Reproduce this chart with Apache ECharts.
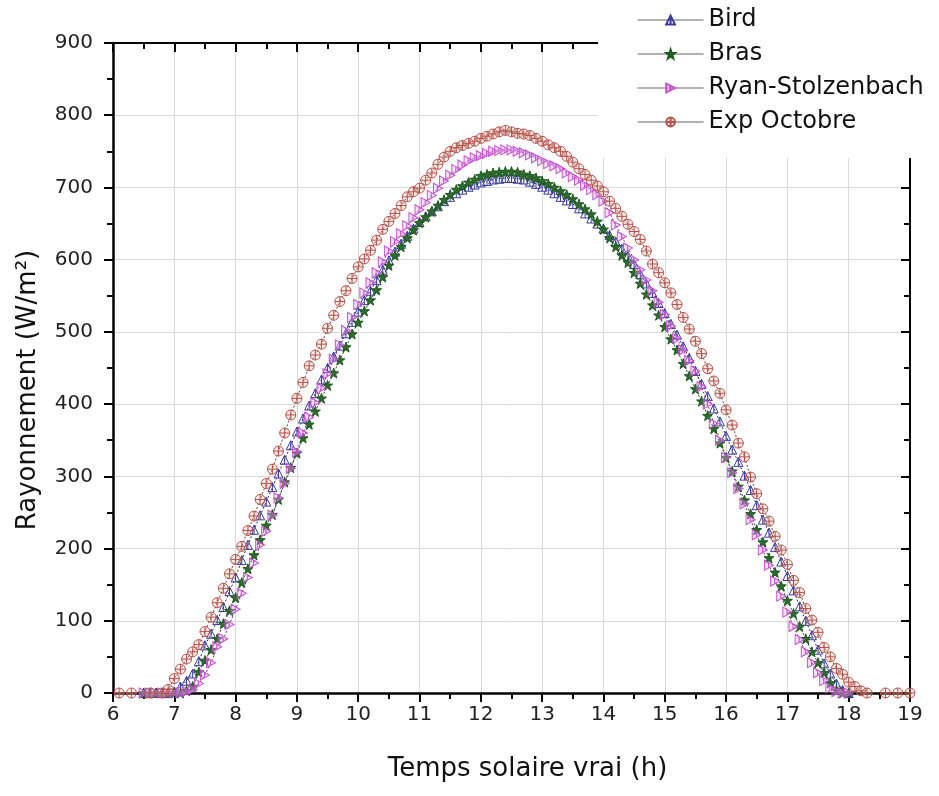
<!DOCTYPE html>
<html><head><meta charset="utf-8">
<script src="https://cdn.jsdelivr.net/npm/echarts@6/dist/echarts.min.js"></script>
<style>html,body{margin:0;padding:0;background:#fff}#c{width:939px;height:796px}</style>
</head><body><div id="c"></div>
<script>
// x grid (hours), 0.1 h steps
var hours = [6.0,6.1,6.2,6.3,6.4,6.5,6.6,6.7,6.8,6.9,
7.0,7.1,7.2,7.3,7.4,7.5,7.6,7.7,7.8,7.9,
8.0,8.1,8.2,8.3,8.4,8.5,8.6,8.7,8.8,8.9,
9.0,9.1,9.2,9.3,9.4,9.5,9.6,9.7,9.8,9.9,
10.0,10.1,10.2,10.3,10.4,10.5,10.6,10.7,10.8,10.9,
11.0,11.1,11.2,11.3,11.4,11.5,11.6,11.7,11.8,11.9,
12.0,12.1,12.2,12.3,12.4,12.5,12.6,12.7,12.8,12.9,
13.0,13.1,13.2,13.3,13.4,13.5,13.6,13.7,13.8,13.9,
14.0,14.1,14.2,14.3,14.4,14.5,14.6,14.7,14.8,14.9,
15.0,15.1,15.2,15.3,15.4,15.5,15.6,15.7,15.8,15.9,
16.0,16.1,16.2,16.3,16.4,16.5,16.6,16.7,16.8,16.9,
17.0,17.1,17.2,17.3,17.4,17.5,17.6,17.7,17.8,17.9,
18.0,18.1,18.2,18.3,18.4,18.5,18.6,18.7,18.8,18.9,
19.0];

var bird = [null,null,null,null,null,0,0,0,0,0,
2,9,17,27,44,66,82,101,119,141,
160,184,205,226,246,265,285,304,323,343,
362,380,398,415,434,450,466,481,498,514,
528,544,557,572,586,599,611,622,633,643,
652,660,667,674,681,687,692,697,701,704,
707,709,711,712,713,713,712,711,708,705,
701,697,692,687,682,677,671,664,657,650,
643,634,625,615,605,594,580,567,554,540,
526,511,496,480,464,446,428,411,394,376,
356,337,320,301,281,260,240,222,202,182,
162,142,120,100,80,60,41,27,13,4,
0,null,null,null,null,null,null,null,null,null,
null];

var bras = [null,null,null,null,null,0,0,0,0,0,
0,0,3,9,29,45,60,75,96,114,
132,153,172,191,212,232,247,268,292,312,
332,353,372,390,408,426,443,461,479,497,
513,529,544,558,576,592,606,618,630,641,
651,659,667,675,683,690,697,702,707,711,
716,718,720,721,722,722,721,718,716,713,
709,705,700,695,690,684,677,670,663,653,
642,630,618,606,596,582,567,552,537,523,
507,490,475,456,439,421,404,384,366,346,
326,307,286,267,248,226,209,187,167,148,
128,110,92,75,57,42,28,14,4,0,
0,null,null,null,null,null,null,null,null,null,
null];

var ryan = [null,null,null,null,null,0,0,0,0,0,
0,0,2,5,13,25,42,64,75,95,
116,138,160,180,205,224,246,270,290,311,
334,360,382,402,422,442,462,482,502,520,
538,554,568,582,597,612,625,636,647,658,
669,679,689,699,709,717,725,731,737,741,
744,747,750,751,752,752,750,748,745,741,
737,733,730,726,720,715,710,703,697,690,
681,665,648,632,616,600,586,572,557,541,
524,508,491,475,460,446,424,400,373,350,
326,305,283,262,240,219,198,177,155,134,
112,92,74,57,42,28,17,7,2,0,
0,null,null,null,null,null,null,null,null,null,
null];

var expOct = [null,0,null,0,null,null,0,null,0,5,
20,33,47,57,67,85,105,125,145,165,
185,203,225,245,268,290,310,335,360,385,
408,430,453,468,483,505,523,542,557,574,
590,601,613,627,642,653,664,675,687,694,
699,710,720,732,742,750,755,758,761,764,
768,771,774,777,779,777,775,774,772,768,
764,759,755,750,743,735,726,718,710,702,
694,681,671,660,649,639,628,612,594,582,
568,554,538,520,504,487,470,449,432,415,
392,371,346,327,299,276,255,238,217,198,
178,156,139,117,101,84,63,50,34,26,
15,9,3,0,null,null,0,null,0,null,
0];

var seriesNames = ['Bird','Bras','Ryan-Stolzenbach','Exp Octobre'];
var xTicks = [6,19,1];
var yTicks = [0,900,100];

function pairs(vals){
  var out = [];
  for (var i=0;i<hours.length;i++){ if (vals[i]!==null) out.push([hours[i], vals[i]]); }
  return out;
}

var FONT = '"DejaVu Sans", "Liberation Sans", Arial, sans-serif';
var symTri = 'path://M5,0 L10,9 L0,9 Z M5,0 L5,9';
var symRight = 'path://M0,0 L9,5 L0,10 Z M4,2 L4,8';
var symCirc = 'path://M5,0 A5,5 0 1 1 5,10 A5,5 0 1 1 5,0 Z M0,5 L10,5 M5,0 L5,10';
var symStar = 'path://M5,0 L6.2,3.5 L10,3.6 L7,5.9 L8.1,9.5 L5,7.4 L1.9,9.5 L3,5.9 L0,3.6 L3.8,3.5 Z';

function mk(name, data, sym, size, fill, border, line){
  return {
    name: name, type: 'line', data: pairs(data), connectNulls: true,
    symbol: sym, symbolSize: size, showAllSymbol: true,
    itemStyle: {color: fill, borderColor: border, borderWidth: 1},
    lineStyle: {color: line, width: 1, type: [2,2]},
    emphasis: {disabled: true}, animation: false
  };
}

var chart = echarts.init(document.getElementById('c'), null, {renderer:'canvas'});
chart.setOption({
  backgroundColor: '#fff',
  animation: false,
  grid: {left:113, right:29, top:43, bottom:103, containLabel:false},
  graphic: [{type:'rect', shape:{x:598, y:0, width:341, height:158}, style:{fill:'#fff'}, z:50}],
  legend: {
    show: true, orient: 'vertical', left: 632, top: 3, z: 60,
    itemWidth: 66, itemHeight: 11, itemGap: 10,
    textStyle: {fontFamily: FONT, fontSize: 24, color: '#111', padding:[0,0,0,0]},
    lineStyle: {color: '#666', width: 1.2, type: 'solid'},
    data: seriesNames
  },
  xAxis: [{
    type: 'value', min: xTicks[0], max: xTicks[1], interval: xTicks[2],
    name: 'Temps solaire vrai (h)', nameLocation: 'middle', nameGap: 63,
    nameTextStyle: {fontFamily: FONT, fontSize: 26, color: '#111', padding:[0,0,0,32]},
    axisLine: {show:true, onZero:false, lineStyle:{color:'#000', width:2.5}},
    axisTick: {show:true, inside:false, length:9, lineStyle:{color:'#000', width:2}},
    minorTick: {show:true, splitNumber:2, length:6, lineStyle:{color:'#000', width:2}},
    axisLabel: {fontFamily: FONT, fontSize: 20, color:'#222', margin: 12},
    splitLine: {show:true, lineStyle:{color:'#dadada', width:1}}
  },{
    type: 'value', min: xTicks[0], max: xTicks[1], interval: xTicks[2], position: 'top',
    axisLine: {show:true, onZero:false, lineStyle:{color:'#000', width:2}},
    axisTick: {show:true, inside:true, length:9, lineStyle:{color:'#000', width:2}},
    minorTick: {show:true, splitNumber:2, length:6, lineStyle:{color:'#000', width:2}},
    axisLabel: {show:false}, splitLine: {show:false}
  }],
  yAxis: [{
    type: 'value', min: yTicks[0], max: yTicks[1], interval: yTicks[2],
    name: 'Rayonnement (W/m²)', nameLocation: 'middle', nameGap: 72, nameRotate: 90,
    nameTextStyle: {fontFamily: FONT, fontSize: 26, color: '#111', padding:[0,44,0,0]},
    axisLine: {show:true, onZero:false, lineStyle:{color:'#000', width:2.5}},
    axisTick: {show:true, inside:false, length:9, lineStyle:{color:'#000', width:2}},
    minorTick: {show:true, splitNumber:2, length:6, lineStyle:{color:'#000', width:2}},
    axisLabel: {fontFamily: FONT, fontSize: 20, color:'#222', margin: 20},
    splitLine: {show:true, lineStyle:{color:'#dadada', width:1}}
  },{
    type: 'value', min: yTicks[0], max: yTicks[1], interval: yTicks[2], position: 'right',
    axisLine: {show:true, onZero:false, lineStyle:{color:'#000', width:2}},
    axisTick: {show:true, inside:true, length:9, lineStyle:{color:'#000', width:2}},
    minorTick: {show:true, splitNumber:2, length:6, lineStyle:{color:'#000', width:2}},
    axisLabel: {show:false}, splitLine: {show:false}
  }],
  series: [
    mk(seriesNames[0], bird, symTri, [9,9], 'rgba(255,255,255,0)', '#3a3a9c', '#2a2a70'),
    mk(seriesNames[1], bras, symStar, [10,10], '#2b6b2b', '#1f5a1f', '#1e4a1e'),
    mk(seriesNames[2], ryan, symRight, [9,10], 'rgba(230,170,240,0.35)', '#c64fcf', '#7a2a80'),
    mk(seriesNames[3], expOct, symCirc, [10,10], 'rgba(240,180,170,0.25)', '#b4534a', '#7a3a34')
  ]
});
</script></body></html>
